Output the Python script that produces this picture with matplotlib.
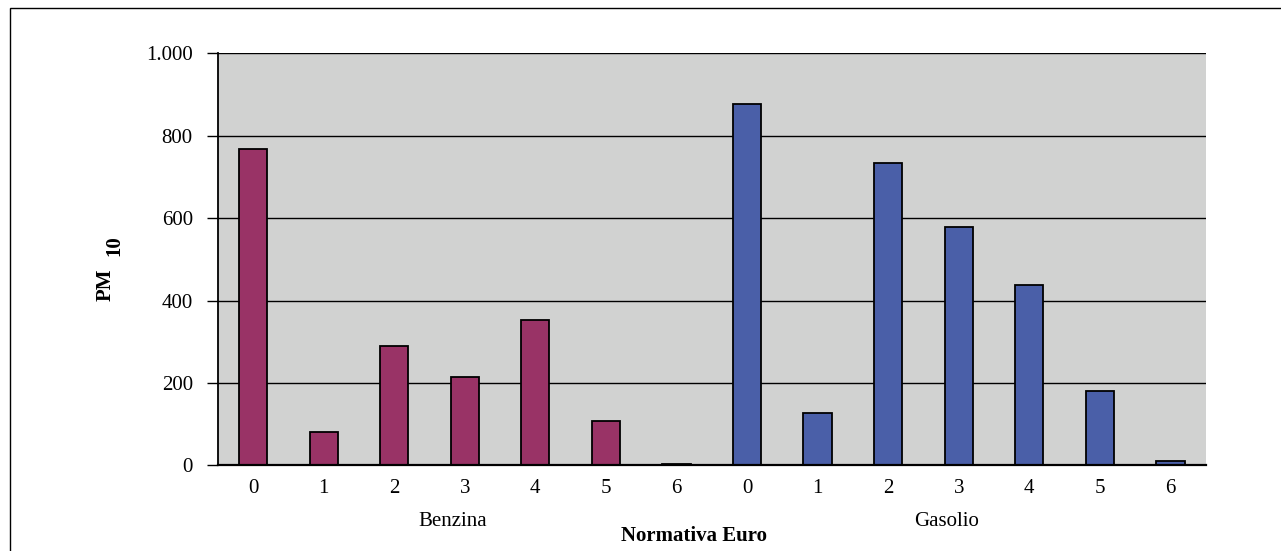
import matplotlib

matplotlib.use("Agg")
import matplotlib.pyplot as plt
from matplotlib.patches import Rectangle
from matplotlib.transforms import blended_transform_factory

# PM10 per normativa Euro, benzina vs gasolio
norme = ["0", "1", "2", "3", "4", "5", "6"]
benzina = [767, 81, 290, 215, 353, 109, 4]
gasolio = [877, 127, 734, 579, 438, 181, 12]
gruppi = ["Benzina", "Gasolio"]
yticks = [0, 200, 400, 600, 800, 1000]
ytick_labels = ["0", "200", "400", "600", "800", "1.000"]

PURPLE = "#993366"
BLUE = "#4a5fa8"
PLOT_BG = "#d1d2d1"
SERIF = ["Liberation Serif", "DejaVu Serif"]
FS = 15

plt.rcParams["font.family"] = SERIF

fig = plt.figure(figsize=(12.81, 5.51), dpi=100)
ax = fig.add_axes([0.170, 0.1552, 0.7712, 0.7481])
ax.set_facecolor(PLOT_BG)

n = len(norme)
xs_b = list(range(n))
xs_g = list(range(n, 2 * n))
ax.bar(xs_b, benzina, width=0.4, color=PURPLE, edgecolor="black", linewidth=1.3, zorder=3)
ax.bar(xs_g, gasolio, width=0.4, color=BLUE, edgecolor="black", linewidth=1.3, zorder=3)

ax.set_xlim(-0.5, 2 * n - 0.5)
ax.set_ylim(0, 1000)
ax.set_yticks(yticks)
ax.set_yticklabels(ytick_labels)
ax.set_xticks(xs_b + xs_g)
ax.set_xticklabels(norme + norme)
ax.yaxis.grid(True, color="black", linewidth=1.0, zorder=1)
ax.set_axisbelow(True)

for side in ("top", "right"):
    ax.spines[side].set_visible(False)
ax.spines["left"].set_linewidth(1.3)
ax.spines["bottom"].set_linewidth(1.6)
ax.spines["bottom"].set_zorder(4)

ax.tick_params(axis="y", direction="out", length=8, width=1.0, pad=10, labelsize=FS)
ax.tick_params(axis="x", length=0, pad=10, labelsize=FS)

# group labels under each block of categories
trans = blended_transform_factory(ax.transData, fig.transFigure)
ax.text((n - 1) / 2 - 0.17, 0.054, gruppi[0], transform=trans, ha="center", va="center", fontsize=FS)
ax.text(n + (n - 1) / 2 - 0.17, 0.054, gruppi[1], transform=trans, ha="center", va="center", fontsize=FS)

fig.text(0.542, 0.027, "Normativa Euro", ha="center", va="center", fontsize=FS, fontweight="bold")

# y label "PM 10" with the number set slightly low
fig.text(0.0824, 0.483, "PM", rotation=90, ha="center", va="center", fontsize=FS, fontweight="bold")
fig.text(0.0894, 0.555, "10", rotation=90, ha="center", va="center", fontsize=FS, fontweight="bold")

# outer frame (only left/top edges fall inside the picture)
fig.patches.append(Rectangle((10 / 1281, -0.05), 1.2, (551 - 8) / 551 + 0.05,
                             transform=fig.transFigure, fill=False, edgecolor="black",
                             linewidth=1.0, figure=fig))

fig.savefig("out.png", dpi=100, facecolor="white")
